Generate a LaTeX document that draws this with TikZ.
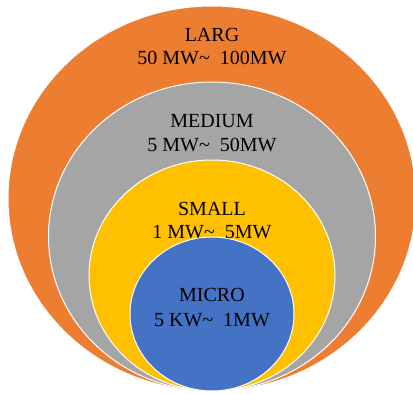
\documentclass[tikz,border=0pt]{standalone}
\usepackage{fontspec}
\setmainfont{Liberation Serif}
\usetikzlibrary{calc,shapes}
\definecolor{largeorange}{HTML}{ED7D31}
\definecolor{mediumgray}{HTML}{A5A5A5}
\definecolor{smallyellow}{HTML}{FFC000}
\definecolor{microblue}{HTML}{4472C4}
\newcommand{\tld}{\textasciitilde}

\begin{document}
\begin{tikzpicture}[x=1pt,y=1pt,
ring/.style={draw=white,line width=1pt,ellipse,inner sep=0pt},
lbl/.style={anchor=base,inner sep=0pt,font=\fontsize{20}{23.5}\selectfont}]
	\clip (0,0) rectangle (413,394);
	\node[ring,fill=largeorange,minimum width=408pt,minimum height=385pt] at (212,195.5) (large) {};
	\node[ring,fill=mediumgray,minimum width=327pt,minimum height=309pt] at (212,157.5) (medium) {};
	\node[ring,fill=smallyellow,minimum width=246pt,minimum height=231pt] at (212,118.5) (small) {};
	\node[ring,fill=microblue,minimum width=164pt,minimum height=154pt] at (212,80) (micro) {};
	
	\node[lbl] at ([yshift=-36pt]large.north) {LARG};
	\node[lbl] at ([yshift=-59pt]large.north) {50 MW\tld\ \ 100MW};
	\node[lbl] at ([yshift=-46pt]medium.north) {MEDIUM};
	\node[lbl] at ([yshift=-70pt]medium.north) {5 MW\tld\ \ 50MW};
	\node[lbl] at ([yshift=-56pt]small.north) {SMALL};
	\node[lbl] at ([yshift=-79pt]small.north) {1 MW\tld\ \ 5MW};
	\node[lbl] at ([yshift=-65pt]micro.north) {MICRO};
	\node[lbl] at ([yshift=-90pt]micro.north) {5 KW\tld\ \ 1MW};
\end{tikzpicture}
\end{document}
